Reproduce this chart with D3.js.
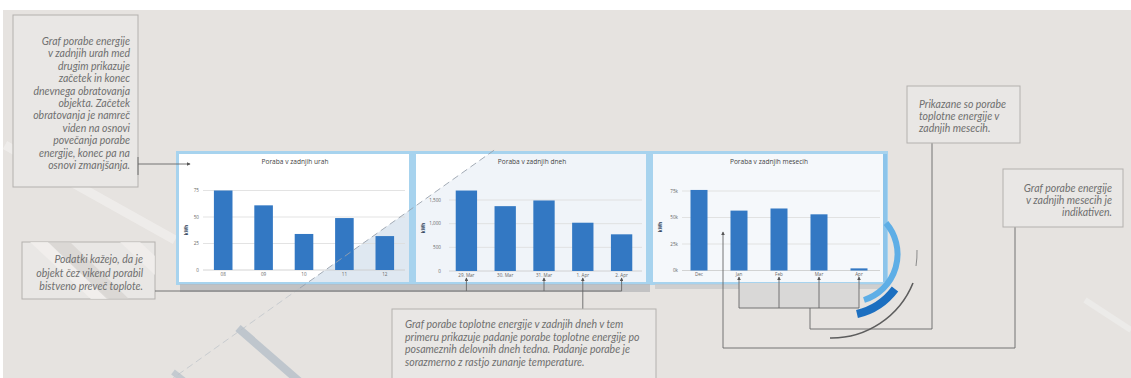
<!DOCTYPE html>
<html><head><meta charset="utf-8">
<script src="https://cdn.jsdelivr.net/npm/d3@7"></script>
<style>
html,body{margin:0;padding:0;background:#fff;}
svg{display:block;}
.note{font-family:Lato,"Open Sans",sans-serif;font-style:italic;fill:#6f6f6f;font-size:10.5px;}
.ttl{font-family:"Open Sans",sans-serif;font-size:6.6px;fill:#444;}
.tk{font-family:"Open Sans",sans-serif;font-size:4.6px;fill:#666;}
.yl{font-family:"Open Sans",sans-serif;font-size:4.6px;fill:#2b3f5a;font-weight:bold;}
</style></head>
<body>
<script>
// ---------- data ----------
const hourCats = ["08","09","10","11","12"];
const hourVals = [75, 61, 34, 49, 32];
const hourTicks = [0, 25, 50, 75];
const hourTickLabels = ["0","25","50","75"];

const dayCats = ["29. Mar","30. Mar","31. Mar","1. Apr","2. Apr"];
const dayVals = [1700, 1370, 1490, 1020, 775];
const dayTicks = [0, 500, 1000, 1500];
const dayTickLabels = ["0","500","1,000","1,500"];

const monthCats = ["Dec","Jan","Feb","Mar","Apr"];
const monthVals = [76, 56.5, 58.5, 53, 2];
const monthTicks = [0, 25, 50, 75];
const monthTickLabels = ["0k","25k","50k","75k"];

const titles = ["Poraba v zadnjih urah","Poraba v zadnjih dneh","Poraba v zadnjih mesecih"];
const unitLabel = "kWh";

const noteA = ["Graf porabe energije","v zadnjih urah med","drugim prikazuje","začetek in konec","dnevnega obratovanja","objekta. Začetek","obratovanja je namreč","viden na osnovi","povečanja porabe","energije, konec pa na","osnovi zmanjšanja."];
const noteB = ["Podatki kažejo, da je","objekt čez vikend porabil","bistveno preveč toplote."];
const noteC = ["Graf porabe toplotne energije v zadnjih dneh v tem","primeru prikazuje padanje porabe toplotne energije po","posameznih delovnih dneh tedna. Padanje porabe je","sorazmerno z rastjo zunanje temperature."];
const noteD = ["Prikazane so porabe","toplotne energije v","zadnjih mesecih."];
const noteE = ["Graf porabe energije","v zadnjih mesecih je","indikativen."];

// ---------- drawing ----------
const W = 1131, H = 378;
const svg = d3.select("body").append("svg").attr("width", W).attr("height", H);
const defs = svg.append("defs");
const mk = defs.append("marker").attr("id","arr").attr("viewBox","0 0 6 6").attr("refX",5).attr("refY",3)
  .attr("markerWidth",4).attr("markerHeight",4).attr("orient","auto-start-reverse");
mk.append("path").attr("d","M0,0L6,3L0,6Z").attr("fill","#555");

// background
svg.append("rect").attr("x",3).attr("y",10).attr("width",W-3).attr("height",H-10).attr("fill","#e6e3e0");

// faint decorative stripes
const deco = svg.append("g");
deco.append("line").attr("x1",5).attr("y1",145).attr("x2",175).attr("y2",240).attr("stroke","#f1efed").attr("stroke-width",9).attr("opacity",0.8);
deco.append("line").attr("x1",238).attr("y1",328).attr("x2",300).attr("y2",382).attr("stroke","#bfc6cd").attr("stroke-width",8);
deco.append("line").attr("x1",173).attr("y1",372).attr("x2",186).attr("y2",382).attr("stroke","#c4cad0").attr("stroke-width",6);
deco.append("line").attr("x1",1085).attr("y1",300).attr("x2",1131).attr("y2",330).attr("stroke","#ecebe9").attr("stroke-width",6);

// annotation box helper
function box(x,y,w,h){
  svg.append("rect").attr("x",x).attr("y",y).attr("width",w).attr("height",h)
    .attr("fill","#e9e7e5").attr("stroke","#b3b1ae").attr("stroke-width",1);
}
function note(lines,x,y0,dy,anchor){
  const t = svg.append("text").attr("class","note").attr("text-anchor",anchor);
  lines.forEach((s,i)=>t.append("tspan").attr("x",x).attr("y",y0+i*dy).text(s));
}

// Box A
box(13,15,125,172);
note(noteA,130,45,12.4,"end");
// Box B with stripes
box(22,242,133,57);
const clipB = defs.append("clipPath").attr("id","cb");
clipB.append("rect").attr("x",22).attr("y",242).attr("width",133).attr("height",57);
const gB = svg.append("g").attr("clip-path","url(#cb)");
gB.append("path").attr("d","M30,242L48,242L110,300L92,300Z").attr("fill","#f2f0ee").attr("opacity",0.8);
gB.append("path").attr("d","M48,242L70,242L130,300L108,300Z").attr("fill","#d4d1ce").attr("opacity",0.7);
gB.append("path").attr("d","M120,242L140,242L155,256L155,275Z").attr("fill","#f2f0ee").attr("opacity",0.7);
note(noteB,143,263,13.5,"end");

// panel frame
svg.append("rect").attr("x",176).attr("y",151).attr("width",712).attr("height",134).attr("fill","#a7d3ee");
// shadow under panels
svg.append("rect").attr("x",180).attr("y",284).attr("width",470).attr("height",8).attr("fill","#b9b9bb").attr("opacity",0.8);
svg.append("rect").attr("x",655).attr("y",284).attr("width",230).attr("height",5).attr("fill","#c9c9cb").attr("opacity",0.8);

const panels = [
  {x0:179, x1:409, cats:hourCats, vals:hourVals, ticks:hourTicks, tl:hourTickLabels, dom:75, y0:270, yT:190.5, gx0:203, gx1:405, bx0:203, bx1:405, pad:0.54, lx:199, ux:188, uy:230, title:titles[0], tx:295},
  {x0:416, x1:646, cats:dayCats, vals:dayVals, ticks:dayTicks, tl:dayTickLabels, dom:1500, y0:271, yT:200, gx0:449, gx1:642, bx0:447, bx1:641, pad:0.45, lx:441, ux:425, uy:228, title:titles[1], tx:532},
  {x0:653, x1:883, cats:monthCats, vals:monthVals, ticks:monthTicks, tl:monthTickLabels, dom:75, y0:270.5, yT:191, gx0:682, gx1:880, bx0:679, bx1:879, pad:0.575, lx:678, ux:662, uy:227, title:titles[2], tx:769}
];

// tint clip: below the diagonal dashed line
const slope = -0.71, px = 293, py = 293;
function lineY(x){ return py + slope*(x-px); }

panels.forEach((p,i)=>{
  const g = svg.append("g");
  g.append("rect").attr("x",p.x0).attr("y",154).attr("width",p.x1-p.x0).attr("height",128).attr("fill", i===2 ? "#f5f8fb" : "#ffffff");
  if(i<2){
    const cid = "pc"+i;
    defs.append("clipPath").attr("id",cid).append("rect").attr("x",p.x0).attr("y",154).attr("width",p.x1-p.x0).attr("height",128);
    const xa = p.x0-300, xb = p.x1+300;
    g.append("path").attr("clip-path",`url(#${cid})`)
      .attr("d",`M${xa},${lineY(xa)}L${xb},${lineY(xb)}L${xb},400L${xa},400Z`)
      .attr("fill", i===0 ? "#dfe8f1" : "#f0f4f9");
  }
  const x = d3.scaleBand().domain(p.cats).range([p.bx0,p.bx1]).paddingInner(p.pad).paddingOuter(p.pad/2);
  const y = d3.scaleLinear().domain([0,p.dom]).range([p.y0,p.yT]);
  // gridlines
  g.selectAll(".gl").data(p.ticks).join("line")
    .attr("x1",p.gx0).attr("x2",p.gx1).attr("y1",d=>y(d)).attr("y2",d=>y(d))
    .attr("stroke",(d)=>d===0?"#c9c9c9":"#dcdcdc").attr("stroke-width",0.8);
  g.selectAll(".tl").data(p.ticks).join("text").attr("class","tk").attr("text-anchor","end")
    .attr("x",p.lx).attr("y",d=>y(d)+1.6).text((d,j)=>p.tl[j]);
  // bars
  g.selectAll(".bar").data(p.vals).join("rect")
    .attr("x",(d,j)=>x(p.cats[j])).attr("width",x.bandwidth())
    .attr("y",d=>y(d)).attr("height",d=>y(0)-y(d)).attr("fill","#3378c3");
  // x labels
  g.selectAll(".xl").data(p.cats).join("text").attr("class","tk").attr("text-anchor","middle")
    .attr("x",d=>x(d)+x.bandwidth()/2).attr("y",p.y0+5.5).text(d=>d);
  g.append("text").attr("class","ttl").attr("text-anchor","middle").attr("x",p.tx).attr("y",164).text(p.title);
  g.append("text").attr("class","yl").attr("text-anchor","middle")
    .attr("transform",`translate(${p.ux},${p.uy}) rotate(-90)`).text(unitLabel);
  p.xs = x;
});

// dashed diagonal line (stronger on the panels, faint outside)
svg.append("line").attr("x1",160).attr("y1",lineY(160)).attr("x2",300).attr("y2",lineY(300))
  .attr("stroke","#b8bfc6").attr("stroke-width",0.8).attr("stroke-dasharray","7,4").attr("opacity",0.8);
svg.append("line").attr("x1",300).attr("y1",lineY(300)).attr("x2",495).attr("y2",lineY(495))
  .attr("stroke","#98a2ad").attr("stroke-width",0.9).attr("stroke-dasharray","7,4");

// right blue edge of panel 3
svg.append("rect").attr("x",883).attr("y",154).attr("width",4).attr("height",128).attr("fill","#8cc4ea");

// leader lines
const ln = (pts)=>svg.append("path").attr("d",d3.line()(pts)).attr("fill","none").attr("stroke","#666").attr("stroke-width",0.9);
// Box A leader
ln([[138,157],[138,175]]);
ln([[138,164],[190,164]]).attr("marker-end","url(#arr)");

// Box B / days bracket
const pd = panels[1], px2 = pd.xs;
const dc = pd.cats.map(c=>px2(c)+px2.bandwidth()/2);
ln([[155,291],[dc[4],291]]);
[0,2,4].forEach(k=>ln([[dc[k],291],[dc[k],278]]).attr("marker-end","url(#arr)"));
ln([[dc[3],309],[dc[3],278]]).attr("marker-end","url(#arr)");

// Box C
box(392,309,264,75);
note(noteC,405,328,12.7,"start");

// months bracket
const pm = panels[2], pxm = pm.xs;
const mc = pm.cats.map(c=>pxm(c)+pxm.bandwidth()/2);
svg.append("rect").attr("x",mc[1]).attr("y",283).attr("width",mc[4]-mc[1]).attr("height",25).attr("fill","#d9d8d7");
ln([[mc[1],308],[mc[4],308]]);
[1,2,3,4].forEach(k=>ln([[mc[k],308],[mc[k],277]]).attr("marker-end","url(#arr)"));
ln([[810,308],[810,329],[932,329],[932,143]]);
ln([[1015,227],[1015,348],[723,348],[723,232]]).attr("marker-end","url(#arr)");

// Box D, E
box(907,86,113,57);
note(noteD,919,108,11.8,"start");
box(1003,169,120,58);
note(noteE,1112,192,11.8,"end");

// arcs decoration
svg.append("path").attr("d","M886,223 A48,48 0 0 1 864,300").attr("fill","none").attr("stroke","#5eaee6").attr("stroke-width",6);
svg.append("path").attr("d","M857,314 A66,66 0 0 0 895,289").attr("fill","none").attr("stroke","#1c6fc0").attr("stroke-width",8);
svg.append("path").attr("d","M830,338 A88,88 0 0 0 913,283").attr("fill","none").attr("stroke","#5d5d5d").attr("stroke-width",1.6);
svg.append("path").attr("d","M917,250 A88,88 0 0 1 916,266").attr("fill","none").attr("stroke","#8a8a8a").attr("stroke-width",1);
</script>
</body></html>
